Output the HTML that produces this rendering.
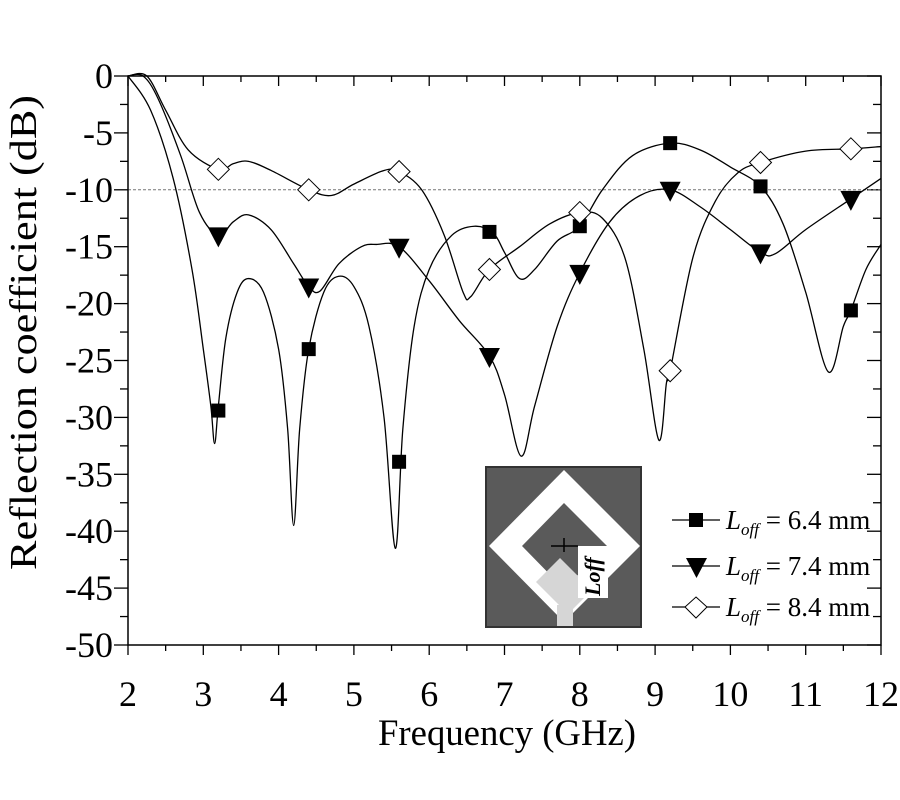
<!DOCTYPE html>
<html><head><meta charset="utf-8">
<style>
html,body{margin:0;padding:0;background:#fff;}
svg{display:block;}
text{font-family:"Liberation Serif","DejaVu Serif",serif;fill:#000;}
</style></head>
<body>
<svg id="s" width="900" height="800" viewBox="0 0 900 800" xmlns="http://www.w3.org/2000/svg">
<rect width="900" height="800" fill="#fff"/>
<g id="ticks" stroke="#000" stroke-width="1.3"></g>
<line x1="128" y1="189.8" x2="881" y2="189.8" stroke="#777" stroke-width="1" stroke-dasharray="3,2"/>
<g id="curves" fill="none" stroke="#000" stroke-width="1.3"></g>
<g id="marks"></g>
<rect x="128" y="76" width="753" height="569" fill="none" stroke="#000" stroke-width="1.5"/>
<!-- inset -->
<g>
<rect x="486" y="467" width="155" height="160" fill="#5a5a5a" stroke="#333" stroke-width="2"/>
<polygon points="564,470 640,546 564,622 489,546" fill="#fff"/>
<polygon points="564,503 607,546 564,589 522,546" fill="#5a5a5a"/>
<polygon points="560,558 592,590 568,614 536,582" fill="#d6d6d6"/>
<rect x="557" y="605" width="16" height="21" fill="#d6d6d6"/>
<rect x="578" y="546" width="30" height="52" fill="#fff"/>
<line x1="551" y1="546" x2="578" y2="546" stroke="#000" stroke-width="1.5"/>
<line x1="564" y1="538" x2="564" y2="552" stroke="#000" stroke-width="1.5"/>
<text transform="translate(600,596) rotate(-90)" font-size="22" font-style="italic" font-weight="bold">Loff</text>
</g>
<!-- legend -->
<g stroke="#000" stroke-width="1.3">
<line x1="672" y1="520" x2="720" y2="520"/>
<line x1="672" y1="566" x2="720" y2="566"/>
<line x1="672" y1="607" x2="720" y2="607"/>
</g>
<rect x="689" y="513" width="14" height="14" fill="#000"/>
<polygon points="686,558 707,558 696.5,578" fill="#000"/>
<polygon points="696,597 707,607 696,618 685,607" fill="#fff" stroke="#000" stroke-width="1"/>
<g font-size="27">
<text x="726" y="529"><tspan font-style="italic">L</tspan><tspan font-style="italic" font-size="17" dy="6">off</tspan><tspan dy="-6"> = 6.4 mm</tspan></text>
<text x="726" y="575"><tspan font-style="italic">L</tspan><tspan font-style="italic" font-size="17" dy="6">off</tspan><tspan dy="-6"> = 7.4 mm</tspan></text>
<text x="726" y="616"><tspan font-style="italic">L</tspan><tspan font-style="italic" font-size="17" dy="6">off</tspan><tspan dy="-6"> = 8.4 mm</tspan></text>
</g>
<g id="labels" font-size="36"></g>
<text x="378" y="745" font-size="37" textLength="258" lengthAdjust="spacingAndGlyphs">Frequency (GHz)</text>
<text transform="translate(36,570) rotate(-90)" font-size="38" textLength="475" lengthAdjust="spacingAndGlyphs">Reflection coefficient (dB)</text>
</svg>
<script>
var NS="http://www.w3.org/2000/svg";
function X(f){return 128+75.3*(f-2);}
function Y(d){return 76-11.38*d;}
function el(n,a,p){var e=document.createElementNS(NS,n);for(var k in a)e.setAttribute(k,a[k]);document.getElementById(p).appendChild(e);return e;}
for(var i=0;i<=20;i++){var f=2+i*0.5,x=X(f),L=(i%2==0)?10:6;
 el("line",{x1:x,y1:76,x2:x,y2:76+L},"ticks");
 el("line",{x1:x,y1:645,x2:x,y2:645+L},"ticks");}
for(var j=0;j<=20;j++){var d=-j*2.5,y=Y(d),L=(j%2==0)?14:8;
 el("line",{x1:128-L,y1:y,x2:128,y2:y},"ticks");
 el("line",{x1:881-L,y1:y,x2:881,y2:y},"ticks");}
for(var i=2;i<=12;i++){var t=el("text",{x:X(i),y:706,"text-anchor":"middle"},"labels");t.textContent=i;}
for(var j=0;j<=10;j++){var t=el("text",{x:113,y:Y(-5*j)+12,"text-anchor":"end"},"labels");t.textContent=j==0?"0":"-"+(5*j);}
function path(P){var s="M"+X(P[0][0])+","+Y(P[0][1]);
 for(var i=0;i<P.length-1;i++){var p0=P[i-1]||P[i],p1=P[i],p2=P[i+1],p3=P[i+2]||P[i+1];
  var a=[X(p0[0]),Y(p0[1])],b=[X(p1[0]),Y(p1[1])],c=[X(p2[0]),Y(p2[1])],e=[X(p3[0]),Y(p3[1])];
  var c1=[b[0]+(c[0]-a[0])/6,b[1]+(c[1]-a[1])/6],c2=[c[0]-(e[0]-b[0])/6,c[1]-(e[1]-b[1])/6];
  s+=" C"+c1+" "+c2+" "+c;}
 el("path",{d:s},"curves");}
var sq=[[2,0],[2.3,-3],[2.6,-9],[2.85,-17],[3.0,-24],[3.1,-29],[3.15,-32.3],[3.2,-29],[3.3,-23],[3.45,-19],[3.6,-17.8],[3.8,-19],[4.0,-24],[4.12,-31],[4.2,-39.5],[4.28,-31],[4.4,-24],[4.6,-19],[4.8,-17.6],[5.0,-18.5],[5.2,-22],[5.4,-30],[5.55,-41.5],[5.65,-31],[5.8,-22],[6.0,-17],[6.3,-14],[6.6,-13.2],[6.85,-13.8],[7.0,-15.5],[7.2,-17.8],[7.4,-17],[7.7,-14.5],[8.0,-13.2],[8.3,-10],[8.7,-7],[9.2,-5.9],[9.6,-6.5],[10.0,-8],[10.4,-9.7],[10.7,-13],[11.0,-19],[11.3,-26],[11.5,-22],[11.6,-20.6],[11.8,-17],[12,-14.8]];
var tr=[[2,0],[2.2,0],[2.4,-2],[2.7,-7],[2.95,-12],[3.2,-14],[3.4,-12.8],[3.6,-12.2],[3.9,-13.5],[4.2,-16.5],[4.4,-18.5],[4.55,-18.9],[4.8,-16.5],[5.1,-15],[5.3,-14.8],[5.6,-15],[6.0,-18],[6.4,-21.5],[6.8,-24.6],[7.0,-28],[7.22,-33.4],[7.4,-29],[7.7,-22],[8.0,-17.3],[8.4,-12.8],[8.8,-10.5],[9.2,-10],[9.6,-11.5],[10.0,-13.5],[10.4,-15.5],[10.6,-15.6],[11.0,-13.5],[11.6,-10.8],[12,-9]];
var di=[[2,0],[2.25,0],[2.5,-3],[2.8,-6.5],[3.2,-8.2],[3.4,-7.7],[3.6,-7.5],[3.9,-8.3],[4.4,-10],[4.7,-10.5],[5.0,-9.5],[5.4,-8.3],[5.6,-8.4],[5.9,-10],[6.2,-14],[6.45,-19],[6.55,-19.4],[6.8,-17],[7.2,-15],[7.6,-13],[8.0,-12],[8.3,-12.5],[8.6,-16],[8.85,-24],[9.05,-32],[9.15,-27],[9.2,-25.9],[9.5,-16],[9.8,-11],[10.1,-8.5],[10.4,-7.6],[11.0,-6.6],[11.6,-6.4],[12,-6.2]];
path(sq);path(tr);path(di);
var ms=[3.2,4.4,5.6,6.8,8.0,9.2,10.4,11.6];
var sqm=[-29.4,-24,-33.9,-13.7,-13.2,-5.9,-9.7,-20.6];
var trm=[-14,-18.5,-15,-24.6,-17.3,-10,-15.5,-10.8];
var dim=[-8.2,-10,-8.4,-17,-12,-25.9,-7.6,-6.4];
ms.forEach(function(f,i){var x=X(f);
 var y=Y(sqm[i]);el("rect",{x:x-7,y:y-7,width:14,height:14,fill:"#000"},"marks");
 y=Y(trm[i]);el("polygon",{points:(x-10.5)+","+(y-8)+" "+(x+10.5)+","+(y-8)+" "+x+","+(y+12),fill:"#000"},"marks");
 y=Y(dim[i]);el("polygon",{points:x+","+(y-11)+" "+(x+11)+","+y+" "+x+","+(y+11)+" "+(x-11)+","+y,fill:"#fff",stroke:"#000","stroke-width":1},"marks");
});
</script>
</body></html>
